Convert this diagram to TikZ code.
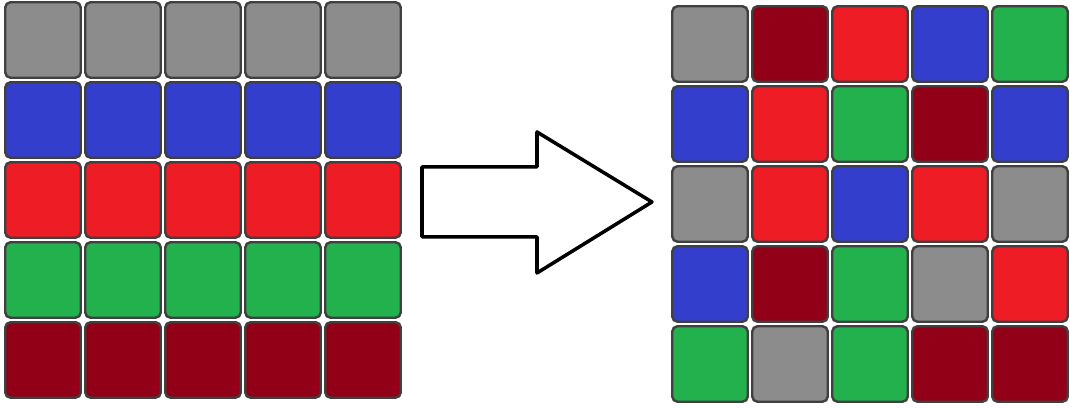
\documentclass[tikz,border=0pt]{standalone}
\usepackage{tikz}
\usetikzlibrary{arrows.meta}
\usepackage{xcolor}
\definecolor{pixgray}{RGB}{140,140,140}
\definecolor{pixblue}{RGB}{52,62,205}
\definecolor{pixred}{RGB}{238,28,36}
\definecolor{pixgreen}{RGB}{34,177,76}
\definecolor{pixdark}{RGB}{145,0,22}

\begin{document}
\begin{tikzpicture}[line join=round,
  cell/.style={draw=black!75,line width=0.7pt,rounded corners=1.5pt,minimum size=0.755cm,inner sep=0pt}]
\useasboundingbox (0,0) rectangle (10.7,4.08);
% left grid: one colour per row
\foreach \col [count=\j from 0] in {pixgray,pixblue,pixred,pixgreen,pixdark}
  \foreach \i in {0,...,4}
    \node[cell,fill=\col] (L-\j-\i) at (0.43+0.8*\i,3.68-0.8*\j) {};
% right grid: shuffled
\foreach \row [count=\j from 0] in {%
  {pixgray,pixdark,pixred,pixblue,pixgreen},%
  {pixblue,pixred,pixgreen,pixdark,pixblue},%
  {pixgray,pixred,pixblue,pixred,pixgray},%
  {pixblue,pixdark,pixgreen,pixgray,pixred},%
  {pixgreen,pixgray,pixgreen,pixdark,pixdark}}
  \foreach \col [count=\i from 0] in \row
    \node[cell,fill=\col] (R-\j-\i) at (7.10+0.8*\i,3.64-0.8*\j) {};
% block arrow
\draw[line width=1pt,fill=white] (4.22,2.41) -- (5.37,2.41) -- (5.37,2.76) -- (6.52,2.06)
  -- (5.37,1.35) -- (5.37,1.71) -- (4.22,1.71) -- cycle;
\end{tikzpicture}
\end{document}
